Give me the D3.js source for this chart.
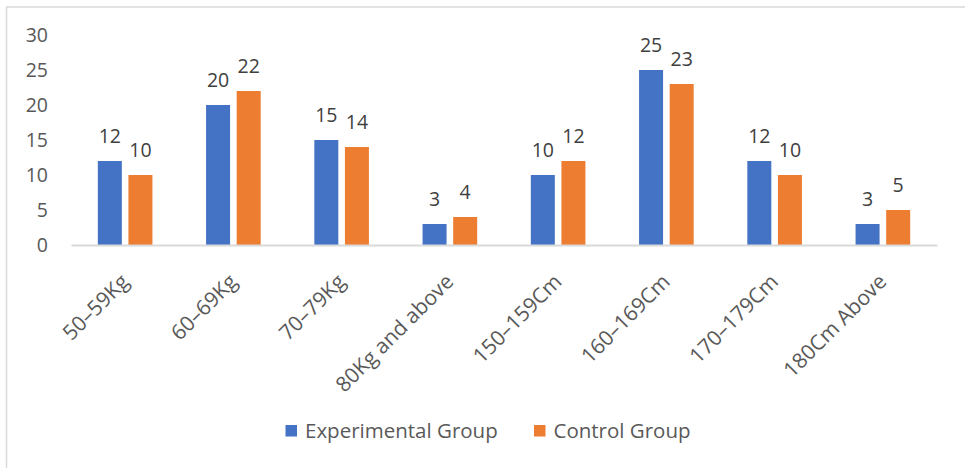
<!DOCTYPE html>
<html>
<head>
<meta charset="utf-8">
<script src="https://cdn.jsdelivr.net/npm/d3@7"></script>
<style>
  body { margin: 0; background: #fff; }
  text { font-family: "Open Sans", sans-serif; }
</style>
</head>
<body>
<div id="chart"></div>
<script>
let categories = ["50–59Kg", "60–69Kg", "70–79Kg", "80Kg and above",
	"150–159Cm", "160–169Cm", "170–179Cm", "180Cm Above"];
let series_names = ["Experimental Group", "Control Group"];
let experimental = [12, 20, 15, 3, 10, 25, 12, 3];
let control = [10, 22, 14, 4, 12, 23, 10, 5];
let y_ticks = [0, 5, 10, 15, 20, 25, 30];
let colors = ["#4472C4", "#ED7D31"];

let width = 965;
let height = 468;
let margin = { top: 35, right: 28, bottom: 223, left: 71 };

let rows = categories.map((c, i) => ({ name: c, values: [experimental[i], control[i]] }));

let svg = d3.select("#chart")
	.append("svg")
	.attr("width", width)
	.attr("height", height);

// outer chart frame (only top and left are visible in the reference)
svg.append("rect")
	.attr("x", 6.5)
	.attr("y", 7)
	.attr("width", width)
	.attr("height", height)
	.attr("fill", "none")
	.attr("stroke", "#d9d9d9")
	.attr("stroke-width", 1.5);

let x = d3.scaleBand()
	.domain(categories)
	.range([margin.left, width - margin.right])
	.paddingInner(0)
	.paddingOuter(0);

let y = d3.scaleLinear()
	.domain([0, 30])
	.range([height - margin.bottom, margin.top]);

let bar_w = 24;
let bar_gap = 6.6;
let x_inner = d3.scaleOrdinal()
	.domain([0, 1])
	.range([-bar_w - bar_gap / 2, bar_gap / 2]);

// y axis labels only
svg.append("g")
	.attr("transform", "translate(48,0)")
	.call(d3.axisLeft(y).tickValues(y_ticks).tickSize(0).tickPadding(0))
	.call(g => g.select(".domain").remove())
	.call(g => g.selectAll(".tick text")
		.attr("fill", "#595959")
		.attr("font-size", "19.5px")
		.attr("font-family", "Open Sans, sans-serif"));

// bars
let groups = svg.selectAll(".cat")
	.data(rows)
	.enter()
	.append("g")
	.attr("transform", d => "translate(" + (x(d.name) + x.bandwidth() / 2) + ",0)");

groups.selectAll("rect")
	.data(d => d.values)
	.enter()
	.append("rect")
	.attr("x", (v, i) => x_inner(i))
	.attr("y", v => y(v))
	.attr("width", bar_w)
	.attr("height", v => y(0) - y(v))
	.attr("fill", (v, i) => colors[i]);

groups.selectAll(".lbl")
	.data(d => d.values)
	.enter()
	.append("text")
	.attr("class", "lbl")
	.attr("x", (v, i) => x_inner(i) + bar_w / 2)
	.attr("y", v => y(v) - 18)
	.attr("text-anchor", "middle")
	.attr("fill", "#404040")
	.attr("font-size", "19.5px")
	.text(v => v);

// x axis
svg.append("g")
	.attr("transform", "translate(0," + y(0) + ")")
	.call(d3.axisBottom(x).tickSize(0).tickPadding(0))
	.call(g => g.select(".domain").attr("stroke", "#d9d9d9").attr("stroke-width", 2))
	.call(g => g.selectAll(".tick text")
		.attr("fill", "#595959")
		.attr("font-size", "21px")
		.attr("font-family", "Open Sans, sans-serif")
		.attr("text-anchor", "end")
		.attr("dy", null)
		.attr("y", null)
		.attr("transform", "translate(5,38) rotate(-45)"));

// legend
let legend = svg.append("g").attr("transform", "translate(285.5,0)");
let legend_x = [0, 248.5];
series_names.forEach((s, i) => {
	legend.append("rect")
		.attr("x", legend_x[i])
		.attr("y", 425)
		.attr("width", 11.5)
		.attr("height", 11.5)
		.attr("fill", colors[i]);
	legend.append("text")
		.attr("x", legend_x[i] + 19.5)
		.attr("y", 438)
		.attr("fill", "#595959")
		.attr("font-size", "20.5px")
		.text(s);
});
</script>
</body>
</html>
